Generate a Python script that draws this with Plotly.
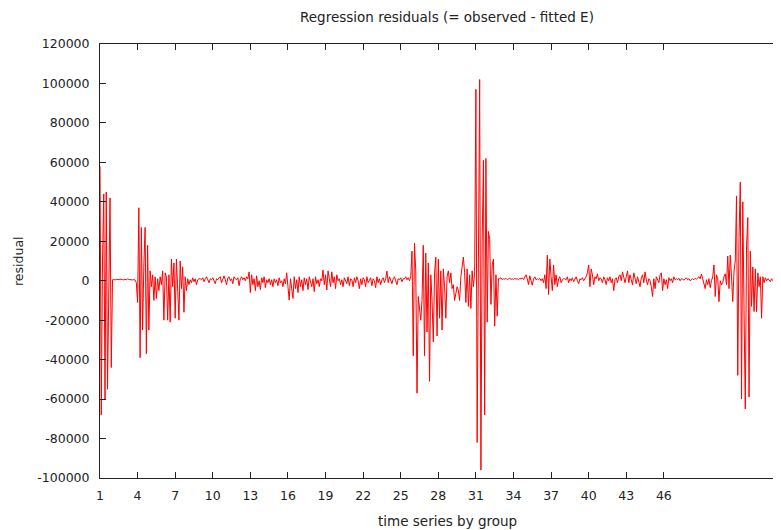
import plotly.graph_objects as go

# Residuals (in thousands), observations ordered by group, 10 observations per group
grp_01_03 = [58, -68, 10, 44, -60, 45, -55, 8, 42, -44,
             0.5, 0.6, 0.4, 0.7, 0.5, 0.6, 0.8, 0.5, 0.6, 0.4,
             0.7, 0.5, 0.9, 0.6, 0.5, 0.7, 0.4, 0.6, 0.3, -1]
grp_04_08 = [-11, 37, -39, 27, -25, 8, 27, -37, 18, -25,
             5, -3, 3, -10, 2, -9, 1, -5, 2, -2,
             5, -20, 4, 2, -20, 3, -21, 11, -3, 9,
             -19, 11, -2, -20, 10, -4, 7, -16, 2, -5,
             1, -2, 0.5, -1, 1.5, -0.5, 1, -2, 0.5, 1]
grp_09_25 = [1, 0.5, 1.5, -0.5, 1, 2, 0.5, -1, 1, 0.5, 1.5, 0, -1.5, 1, 0.5,
             1.5, 2, -1, 1, 2.5, 0.5, -2, 1.5, 2, 0, 1, -1.5, 2, 1, 0.5, 1.5, -2.5, 1, 2, 0.5, 1.5, 0, 2, 1,
             4.5, -6, 3, -2, 1, -5, 2.5, -3, 0, -4.5, 1.5, -1, 2, -3.5, 0.5, -1,
             1, -2, 0.5, -3, 1, -1, 0.5, -2.5, 1.5, -1, 0, -3, 1, -1.5,
             4, -3, -9.8, 1, -5, -9, 2, -4, 0.5, -6,
             2, -3, 0.5, -5, 1.5, -2, 1, -4.5, 2, 0, -3, 1, -5.5, 2, -1.5, 0.5, -3, 1,
             0, 5.4, -2, 3, -4.7, 5, 1, -3, 4.5, -1, 2, -4, 3, 0,
             1, -2, 0.5, -3, 1.5, 0, -1.5, 2, -2.5, 1, 0.5, -3, 1.5, -1, 2, 0, -4, 1, -2, 1.5,
             0.5, -3, 2, -1, 0.5, 1.5, -2.5, 1, 0, -3.5, 2, -1, 1, -2, 0.5, 1.5, -1,
             1, 4.9, -1, 2, 0.5, -1.5, 1, 2, 0, -2, 1, 0.5, 1.5, -0.5, 1]
grp_25_30 = [1, 2, 0.5, 1.5, 0, 2,
             15, -38, 19, 5, -57, -8, -14, -20, -10, 18, -38, 14, -26, 9, -51,
             3, -10, -31, 4, 12, -28, 11, -19, 5, -25, 6, -3, -19, 2, 5, -1,
             4, -4, -2, -10, -6, -3, -5, -10, 2, 8, 12, 4, -11, 6, -13, 3, -14, 5, -3, 4]
grp_31_32 = [97, -82, 42, 102, -96, 20, 61, -68, 62, -21,
             25, 21, -12, 8, 11, -23, 3, -18, 1]
grp_32_55 = [1, 1.5, 0.5, 1, 0.8, 1.2, 0.5, 1, 1.3, 0.7, 1, 0.6, 1.2, 0.8, 1, 0.5, 1.1, 0.9, 1.4, 0.6,
             2, 3, 1, -2, 2.5, 0, -2.3, 1, 2, 0.5, 1, 0.5, 1.2, 0, 1, -1,
             3, -4, 13, -7, 11, 2, -5, 8, -2, 3, -3, 1, 2, -1, 0.5, 1,
             1, 0.5, 2, -1, 1, 0, 1.5, -0.5, 1, 2, 0, -1.5, 1, 0.5, 1.5, 0, 1, 2,
             4, 8, -3, 6, 3, -2, 2, 1, 3.5, 0, 1.5,
             1, -1, 2, 0.5, -2, 1.5, 0, 2, -1, 1, -5, 0.5, 1.5, -1, 2, 3, 0, 4.5, 1, -1,
             2, 5, -1, 3, 0.5, -2, 4, 1, -1.5, 2, 0, -3, 1.5, 3, -1, 4.5, 0.5, -2, 1, 0,
             -3, -8, 1, -4, 2, 0.5, -1, 3, 4, -5, 1, -2, 0.5, -4, 1.5, 0, 1, -1, 2, 0.5,
             1, 0.5, 1.2, 0, 1, 0.8, 0.3, 1, 1.5, 0.5, 1, 0, 0.8, 1, 0.5, 1.2, 0.8, 1.5, 2, 1,
             3.4, 1, -1, -4, 0.5, -2, 1, -3.5, 0, 2,
             8, -8, 3, 1, -10.6, 0, -2, -1, 2, 3.5,
             -2, 12.5, -4, 13, 2, -10.6, 5, 10, 43, -48,
             22, 50, -60, 40, -15, -65, 18, 32, -59, 15,
             -13, 7, -15.6, 6, -15.7, 4, -3, 2, -19, 2,
             -1, 1.5, 0, 1, 0.5, -0.5, 1, 0, 0.5, -0.3, 0.2]

residual_thousands = grp_01_03 + grp_04_08 + grp_09_25 + grp_25_30 + grp_31_32 + grp_32_55
obs_per_group = 10
x_vals = [1 + i / obs_per_group for i in range(len(residual_thousands))]
y_vals = [v * 1000 for v in residual_thousands]

x_ticks = [1, 4, 7, 10, 13, 16, 19, 22, 25, 28, 31, 34, 37, 40, 43, 46]
y_ticks = list(range(-100000, 120001, 20000))
y_tick_labels = [str(v) for v in y_ticks]

FONT = "DejaVu Sans"
TXT = "#222222"

# the page places the figure 8px in from the top-left corner of the window
L, T, B = 92, 36, 60
PW, PH = 781 - L, 530 - T - B

fig = go.Figure()
fig.add_trace(go.Scatter(x=x_vals, y=y_vals, mode="lines",
                         line=dict(color="#ff0000", width=1), showlegend=False,
                         hoverinfo="skip"))

fig.update_layout(
    width=781, height=530,
    margin=dict(l=L, r=0, t=T, b=B),
    paper_bgcolor="white", plot_bgcolor="white",
    font=dict(family=FONT, size=12, color=TXT),
    xaxis=dict(range=[1, 1 + PW / 12.53], tickvals=x_ticks, ticktext=[str(t) for t in x_ticks],
               ticks="inside", ticklen=6, tickcolor="#222", showline=True,
               linecolor="#222", linewidth=1, mirror="ticks", showgrid=False,
               zeroline=False, ticklabelstandoff=6,
               tickfont=dict(family=FONT, size=12.5, color=TXT)),
    yaxis=dict(range=[-100000, 120000], tickvals=y_ticks, ticktext=y_tick_labels,
               ticks="inside", ticklen=6, tickcolor="#222", showline=True,
               linecolor="#222", linewidth=1, showgrid=False, zeroline=False,
               ticklabelstandoff=7,
               tickfont=dict(family=FONT, size=12.5, color=TXT)),
    annotations=[
        dict(text="Regression residuals (= observed - fitted E)", xref="paper", yref="paper",
             x=(439 - L) / PW, y=1 + (T - 9) / PH, xanchor="center", yanchor="middle",
             showarrow=False, font=dict(family=FONT, size=13.5, color=TXT)),
        dict(text="time series by group", xref="paper", yref="paper",
             x=(439 - L) / PW, y=-(513 - (T + PH)) / PH, xanchor="center", yanchor="middle",
             showarrow=False, font=dict(family=FONT, size=13.5, color=TXT)),
        dict(text="residual", xref="paper", yref="paper", textangle=-90,
             x=(10 - L) / PW, y=((T + PH) - 253) / PH, xanchor="center", yanchor="middle",
             showarrow=False, font=dict(family=FONT, size=12.5, color=TXT)),
    ],
)

fig.write_html("out.html")
